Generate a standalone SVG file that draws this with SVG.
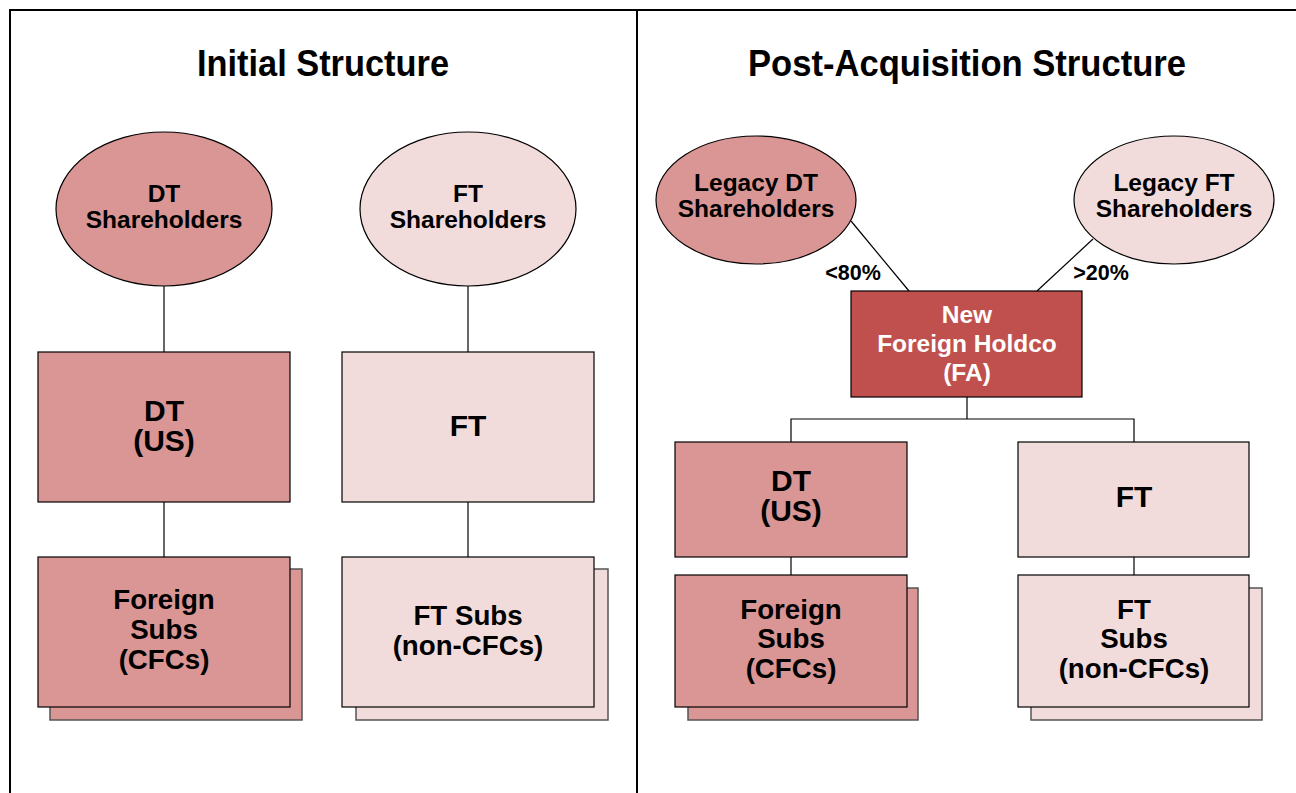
<svg xmlns="http://www.w3.org/2000/svg" width="1296" height="793" viewBox="0 0 1296 793">
  <style>
    text { font-family: "Liberation Sans", Arial, sans-serif; font-weight: bold; text-anchor: middle; fill: #000; }
    .title { font-size: 36px; }
    .t23 { font-size: 24.5px; }
    .t27 { font-size: 27.7px; }
    .t30 { font-size: 30px; }
    .pct { font-size: 21.5px; }
    .white { fill: #fff; }
    .dark { fill: #d99694; stroke: #000; stroke-width: 1.2; }
    .light { fill: #f2dcdb; stroke: #000; stroke-width: 1.2; }
    .hold { fill: #c0504d; stroke: #000; stroke-width: 1.2; }
    .back-dark { fill: #d99694; stroke: #555; stroke-width: 1.5; }
    .back-light { fill: #f2dcdb; stroke: #555; stroke-width: 1.5; }
    .link { fill: none; stroke: #000; stroke-width: 1.2; }
    .frame { fill: none; stroke: #000; stroke-width: 2; }
  </style>

  <rect width="1296" height="793" fill="#fff"/>

  <!-- outer frame and divider -->
  <g id="frame">
    <path class="frame" d="M10 800 V10 H1300"/>
    <line class="frame" x1="637" y1="10" x2="637" y2="800"/>
  </g>

  <g id="titles">
    <text class="title" x="323" y="76" textLength="252" lengthAdjust="spacingAndGlyphs">Initial Structure</text>
    <text class="title" x="967" y="76" textLength="438" lengthAdjust="spacingAndGlyphs">Post-Acquisition Structure</text>
  </g>

  <!-- connectors -->
  <g id="connectors">
    <line class="link" x1="164" y1="286" x2="164" y2="352"/>
    <line class="link" x1="164" y1="502" x2="164" y2="557"/>
    <line class="link" x1="468" y1="286" x2="468" y2="352"/>
    <line class="link" x1="468" y1="502" x2="468" y2="557"/>
    <line class="link" x1="851" y1="221" x2="909" y2="291"/>
    <line class="link" x1="1093" y1="239" x2="1037" y2="291"/>
    <path class="link" d="M967 397 V419 M791 442 V419 H1134 V442"/>
    <line class="link" x1="791" y1="557" x2="791" y2="575"/>
    <line class="link" x1="1134" y1="557" x2="1134" y2="575"/>
    <text class="pct" x="853" y="280">&lt;80%</text>
    <text class="pct" x="1101" y="280">&gt;20%</text>
  </g>

  <!-- Initial structure -->
  <g id="dt-shareholders">
    <ellipse class="dark" cx="164" cy="209" rx="108" ry="77"/>
    <text class="t23" x="164" y="202">DT</text>
    <text class="t23" x="164" y="228">Shareholders</text>
  </g>
  <g id="ft-shareholders">
    <ellipse class="light" cx="468" cy="209" rx="108" ry="77"/>
    <text class="t23" x="468" y="202">FT</text>
    <text class="t23" x="468" y="228">Shareholders</text>
  </g>
  <g id="dt-us">
    <rect class="dark" x="38" y="352" width="252" height="150"/>
    <text class="t30" x="164" y="421">DT</text>
    <text class="t30" x="164" y="451">(US)</text>
  </g>
  <g id="ft">
    <rect class="light" x="342" y="352" width="252" height="150"/>
    <text class="t30" x="468" y="436">FT</text>
  </g>
  <g id="foreign-subs">
    <rect class="back-dark" x="50" y="569" width="252" height="151"/>
    <rect class="dark" x="38" y="557" width="252" height="150"/>
    <text class="t27" x="164" y="609">Foreign</text>
    <text class="t27" x="164" y="639">Subs</text>
    <text class="t27" x="164" y="669">(CFCs)</text>
  </g>
  <g id="ft-subs">
    <rect class="back-light" x="356" y="569" width="252" height="151"/>
    <rect class="light" x="342" y="557" width="252" height="150"/>
    <text class="t27" x="468" y="625">FT Subs</text>
    <text class="t27" x="468" y="655">(non-CFCs)</text>
  </g>

  <!-- Post-acquisition structure -->
  <g id="legacy-dt">
    <ellipse class="dark" cx="756" cy="200" rx="100" ry="64"/>
    <text class="t23" x="756" y="191">Legacy DT</text>
    <text class="t23" x="756" y="217">Shareholders</text>
  </g>
  <g id="legacy-ft">
    <ellipse class="light" cx="1174" cy="200" rx="100" ry="64"/>
    <text class="t23" x="1174" y="191">Legacy FT</text>
    <text class="t23" x="1174" y="217">Shareholders</text>
  </g>
  <g id="holdco">
    <rect class="hold" x="851" y="291" width="231" height="106"/>
    <text class="t23 white" x="967" y="323">New</text>
    <text class="t23 white" x="967" y="352">Foreign Holdco</text>
    <text class="t23 white" x="967" y="381">(FA)</text>
  </g>
  <g id="dt-us-post">
    <rect class="dark" x="675" y="442" width="232" height="115"/>
    <text class="t30" x="791" y="491">DT</text>
    <text class="t30" x="791" y="521">(US)</text>
  </g>
  <g id="ft-post">
    <rect class="light" x="1018" y="442" width="231" height="115"/>
    <text class="t30" x="1134" y="507">FT</text>
  </g>
  <g id="foreign-subs-post">
    <rect class="back-dark" x="688" y="588" width="230" height="132"/>
    <rect class="dark" x="675" y="575" width="232" height="132"/>
    <text class="t27" x="791" y="619">Foreign</text>
    <text class="t27" x="791" y="648">Subs</text>
    <text class="t27" x="791" y="678">(CFCs)</text>
  </g>
  <g id="ft-subs-post">
    <rect class="back-light" x="1031" y="588" width="231" height="132"/>
    <rect class="light" x="1018" y="575" width="231" height="132"/>
    <text class="t27" x="1134" y="619">FT</text>
    <text class="t27" x="1134" y="648">Subs</text>
    <text class="t27" x="1134" y="678">(non-CFCs)</text>
  </g>
</svg>
